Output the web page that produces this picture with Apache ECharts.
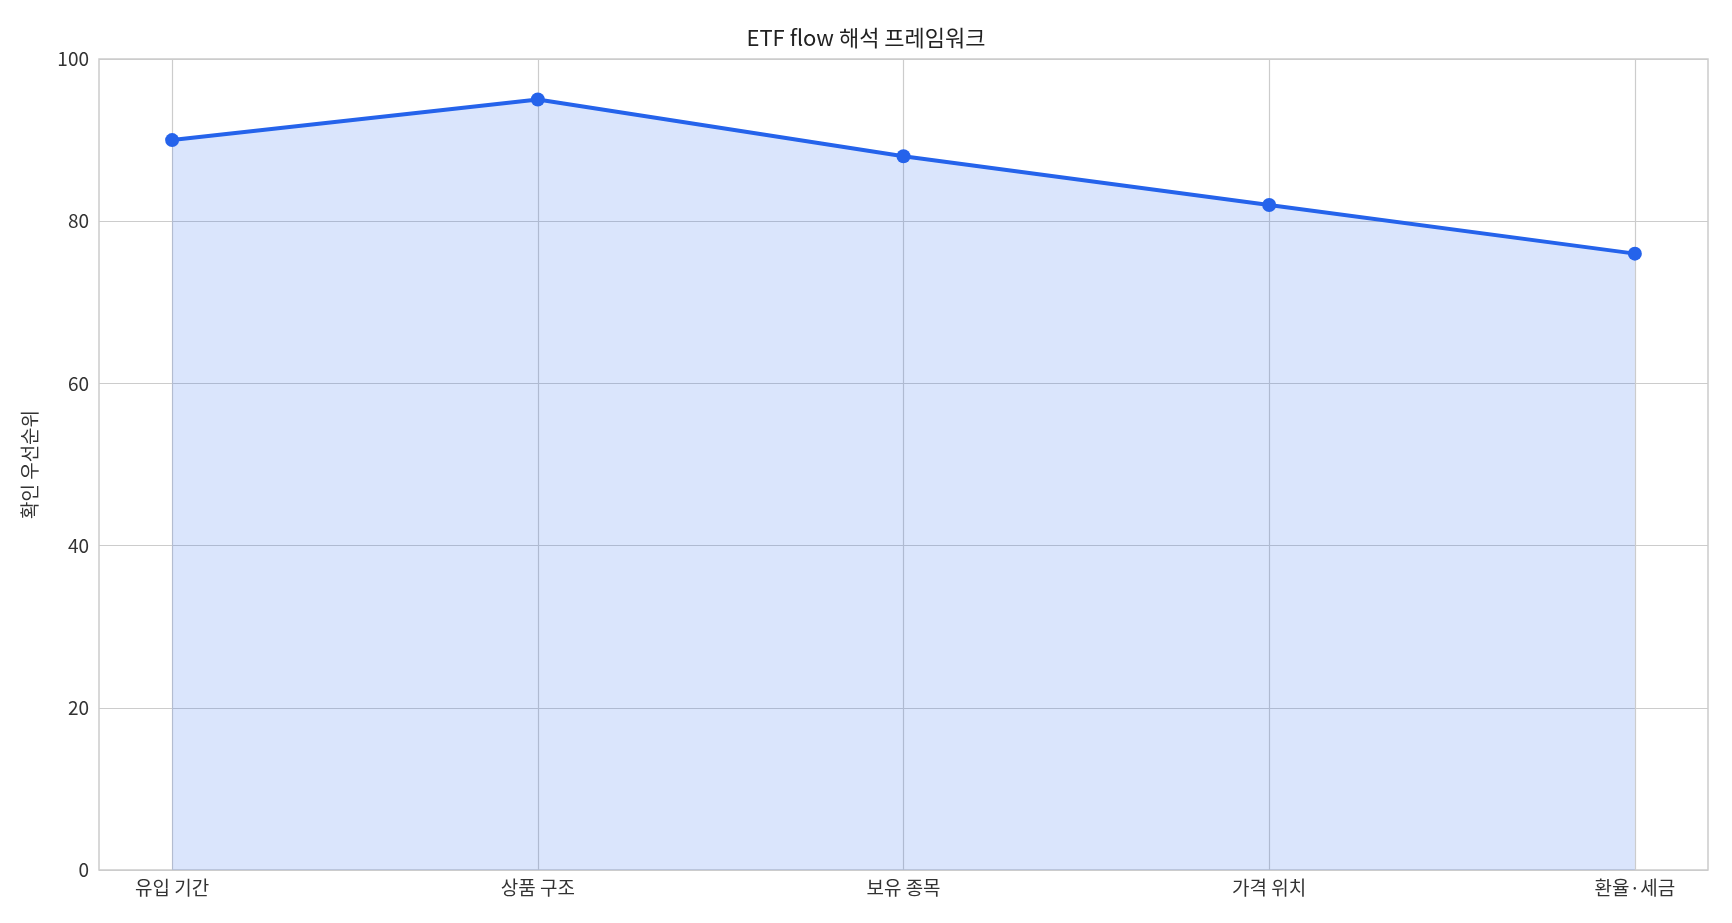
<!DOCTYPE html>
<html>
<head>
<meta charset="utf-8">
<script src="https://cdn.jsdelivr.net/npm/echarts@6/dist/echarts.min.js"></script>
<style>
  html, body { margin: 0; padding: 0; background: #fff; }
  #grafico { width: 1732px; height: 923px; }
</style>
</head>
<body>
<div id="grafico"></div>
<script>
// Datos
const categorias = ['유입 기간', '상품 구조', '보유 종목', '가격 위치', '환율·세금'];
const prioridad = [90, 95, 88, 82, 76];
const ticksY = [0, 20, 40, 60, 80, 100];

const fuente = '"Noto Sans CJK KR", "Noto Sans", sans-serif';
const posiciones = categorias.map((c, i) => i);

function iniciar() {
    const chart = echarts.init(document.getElementById('grafico'), null, {renderer: 'canvas'});

    const option = {
        animation: false,
        title: {
            text: 'ETF flow 해석 프레임워크',
            left: 'center',
            top: 22,
            textStyle: { fontFamily: fuente, fontSize: 22, fontWeight: 'normal', color: '#222' }
        },
        grid: { left: 99, right: 24, top: 59, bottom: 53, show: true, borderColor: '#cccccc', borderWidth: 1.5 },
        xAxis: {
            type: 'value',
            min: -0.2,
            max: 4.2,
            axisLine: { show: false },
            axisTick: { show: false, customValues: posiciones },
            splitLine: { show: true, lineStyle: { color: '#cccccc', width: 1.2 } },
            axisLabel: {
                customValues: posiciones,
                formatter: v => categorias[Math.round(v)],
                fontFamily: fuente, fontSize: 19, color: '#333', margin: 8
            }
        },
        yAxis: {
            type: 'value',
            min: 0,
            max: 100,
            interval: 20,
            name: '확인 우선순위',
            nameLocation: 'middle',
            nameGap: 60,
            nameTextStyle: { fontFamily: fuente, fontSize: 19, color: '#333' },
            axisLine: { show: false },
            axisTick: { show: false },
            splitLine: { show: true, lineStyle: { color: '#cccccc', width: 1.2 } },
            axisLabel: {
                customValues: ticksY,
                fontFamily: fuente, fontSize: 19, color: '#333', margin: 10
            }
        },
        series: [{
            type: 'line',
            data: prioridad.map((v, i) => [posiciones[i], v]),
            symbol: 'circle',
            symbolSize: 14,
            itemStyle: { color: '#2563eb' },
            lineStyle: { color: '#2563eb', width: 4 },
            areaStyle: { color: '#2563eb', opacity: 0.17 }
        }]
    };

    chart.setOption(option);
}

iniciar();
</script>
</body>
</html>
